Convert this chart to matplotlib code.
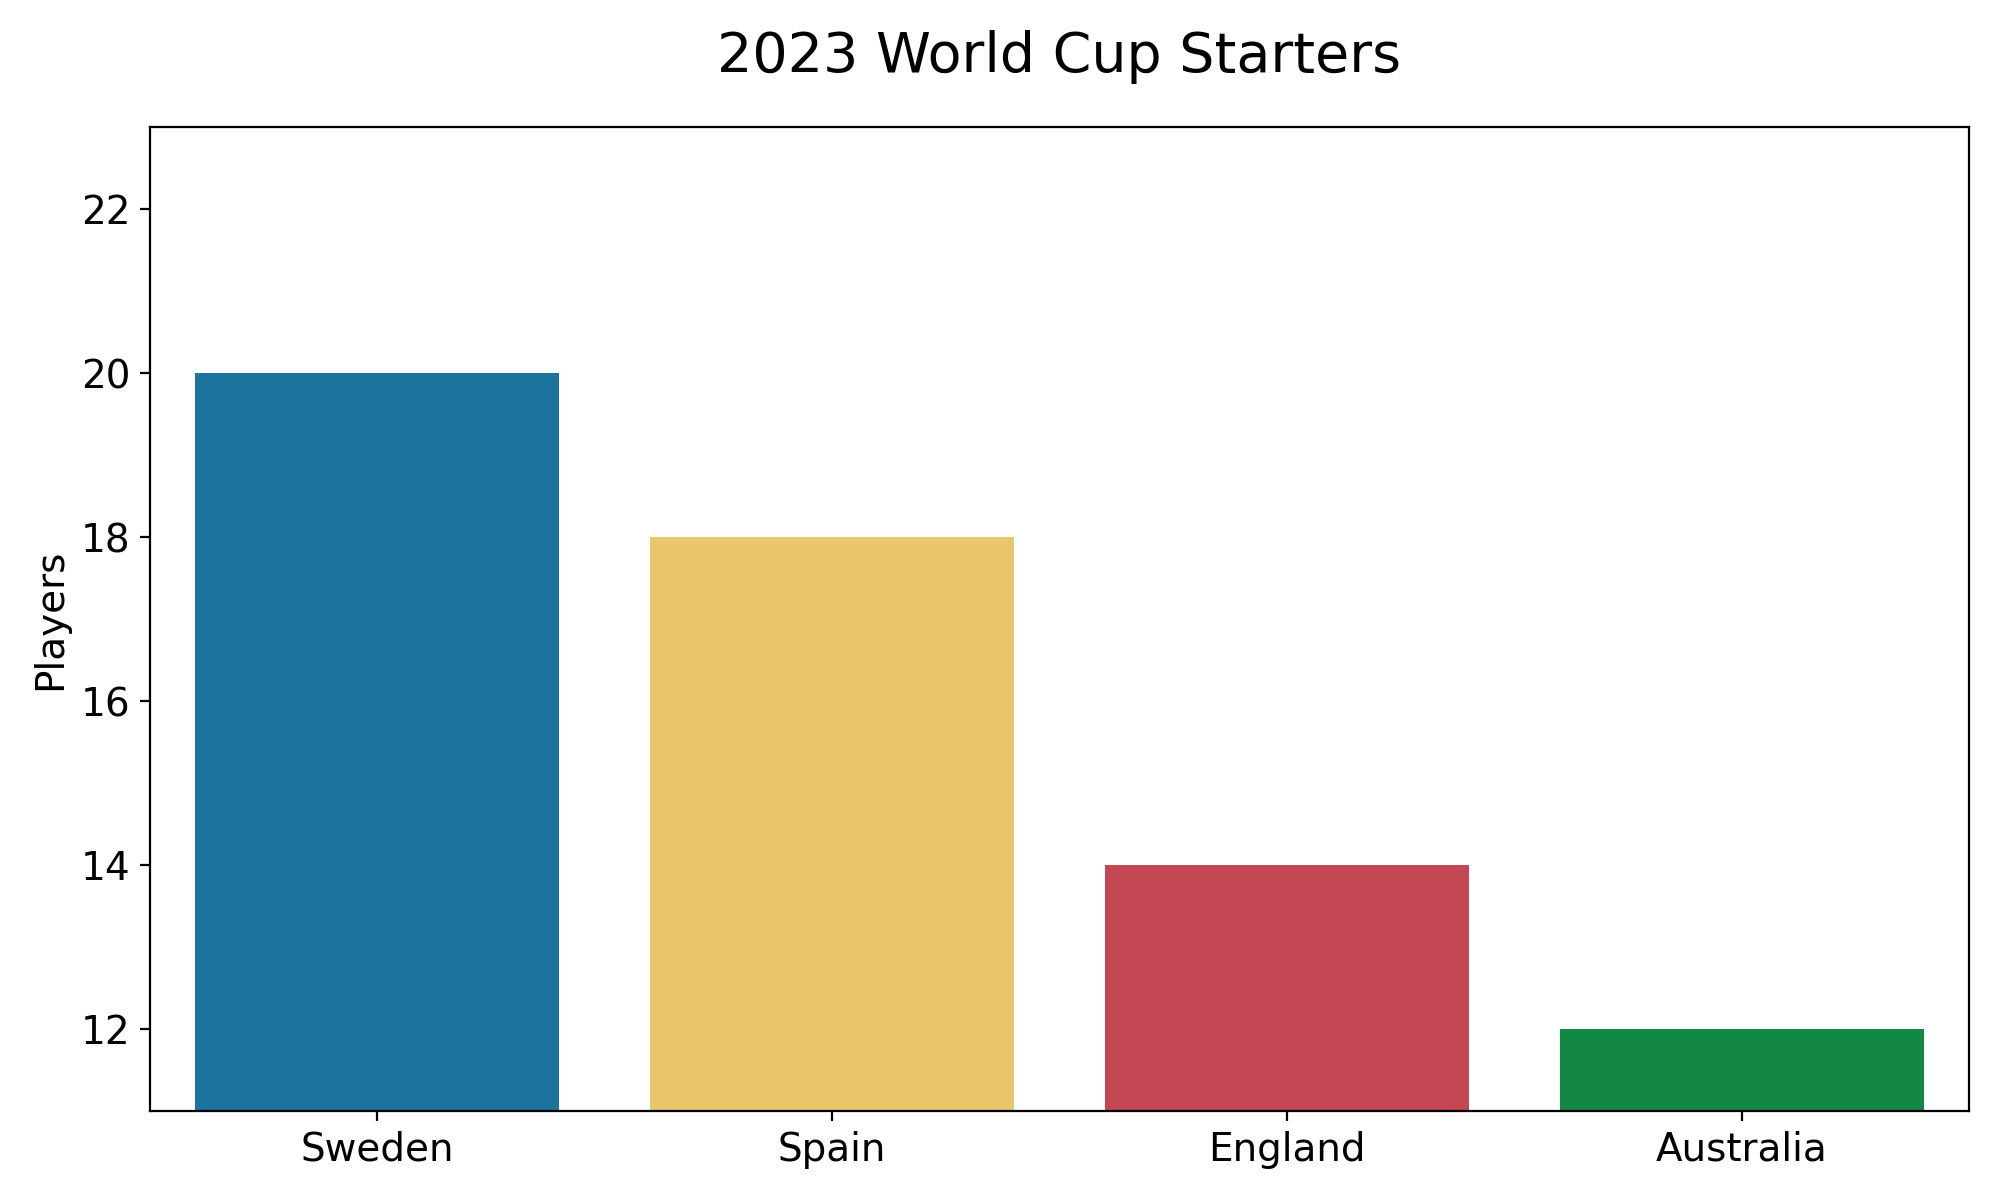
import matplotlib
matplotlib.use("Agg")
import matplotlib.pyplot as plt

teams = ["Sweden", "Spain", "England", "Australia"]
players = [20, 18, 14, 12]
colors = ["#1c739d", "#e9c66b", "#c44754", "#138844"]

fig, ax = plt.subplots(figsize=(9.995, 6), dpi=200)
fig.subplots_adjust(left=0.075, right=0.985, top=0.894, bottom=0.074)

ax.bar(teams, players, color=colors, width=0.8)
ax.set_ylim(11, 23)
ax.set_xlim(-0.5, 3.5)
ax.set_yticks([12, 14, 16, 18, 20, 22])
ax.set_ylabel("Players", fontsize=14)
ax.set_title("2023 World Cup Starters", fontsize=20, pad=20)
ax.tick_params(labelsize=14)

fig.savefig("out.png", dpi=200)
